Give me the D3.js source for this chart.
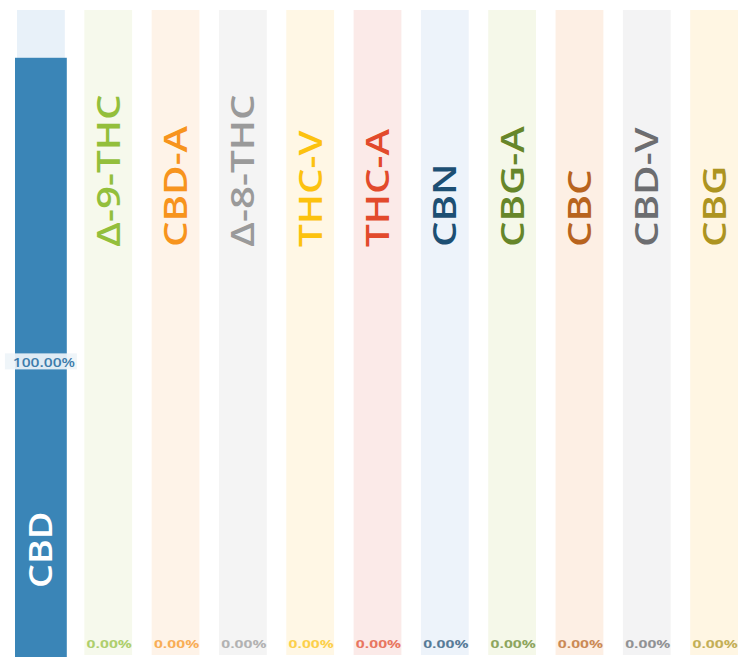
<!DOCTYPE html>
<html>
<head>
<meta charset="utf-8">
<script src="https://cdn.jsdelivr.net/npm/d3@7"></script>
<style>
  html, body { margin: 0; padding: 0; background: #fff; }
  svg { display: block; }
</style>
</head>
<body>
<svg id="chart" width="748" height="657"></svg>
<script>
const categories = ["CBD", "Δ-9-THC", "CBD-A", "Δ-8-THC", "THC-V", "THC-A", "CBN", "CBG-A", "CBC", "CBD-V", "CBG"];
const values = [100, 0, 0, 0, 0, 0, 0, 0, 0, 0, 0];
const valueLabels = ["100.00%", "0.00%", "0.00%", "0.00%", "0.00%", "0.00%", "0.00%", "0.00%", "0.00%", "0.00%", "0.00%"];
const colors = ["#3a85b7", "#93bf3c", "#f7941d", "#9a9a9a", "#fcc20f", "#e24a2c", "#1d4f73", "#66862a", "#b8641e", "#6c6d70", "#ad9421"];
const trackColors = ["#e8f1f9", "#f6f9ec", "#fef3e8", "#f4f4f4", "#fff7e5", "#fbeae8", "#edf3fa", "#f5f8e9", "#fdefe4", "#f3f3f4", "#fff6e3"];
const yMax = 108;

const svg = d3.select("#chart");
const plotTop = 10, plotBottom = 655;

const x = d3.scaleBand().domain(categories).range([17, 738]).paddingInner(0.29).paddingOuter(0);
const y = d3.scaleLinear().domain([0, yMax]).range([plotBottom, plotTop]);

const data = categories.map((c, i) => ({ c, v: values[i], label: valueLabels[i], color: colors[i], track: trackColors[i] }));

const g = svg.append("g");

// background tracks
g.selectAll("rect.track").data(data).join("rect")
  .attr("class", "track")
  .attr("x", d => x(d.c))
  .attr("width", x.bandwidth())
  .attr("y", y(yMax))
  .attr("height", y(0) - y(yMax))
  .attr("fill", d => d.track);

// bars
g.selectAll("rect.bar").data(data.filter(d => d.v > 0)).join("rect")
  .attr("class", "bar")
  .attr("x", d => x(d.c) - 2)
  .attr("width", x.bandwidth() + 4)
  .attr("y", d => y(d.v))
  .attr("height", d => y(0) - y(d.v) + 2)
  .attr("fill", d => d.color);

// category labels
const nameY = 247;
const stretch = 1.26;
g.selectAll("text.name").data(data).join("text")
  .attr("class", "name")
  .attr("transform", d => {
    const cx = x(d.c) + x.bandwidth() / 2;
    const yy = d.v > 0 ? plotBottom - 67 : nameY;
    const s = d.v > 0 ? 1.18 : stretch;
    return `translate(${cx},${yy}) rotate(-90) scale(${s},1)`;
  })
  .attr("dy", "0.36em")
  .attr("text-anchor", "start")
  .attr("font-family", "'Open Sans', sans-serif")
  .attr("font-weight", 600)
  .attr("font-size", 32)
  .attr("fill", d => d.v > 0 ? "#ffffff" : d.color)
  .text(d => d.c);

// value labels
data.forEach(d => {
  const cx = x(d.c) + x.bandwidth() / 2;
  if (d.v > 0) {
    const ly = (y(d.v) + y(0)) / 2 + 7;
    g.append("rect")
      .attr("x", cx - 36).attr("width", 72)
      .attr("y", ly - 10).attr("height", 16)
      .attr("fill", "#eef4f9").attr("opacity", 0.92);
    g.append("text")
      .attr("transform", `translate(${cx + 3},${ly + 4}) scale(1.3,1)`)
      .attr("text-anchor", "middle")
      .attr("font-family", "'Open Sans', sans-serif")
      .attr("font-weight", 600)
      .attr("font-size", 12)
      .attr("fill", "#3d7cab")
      .text(d.label);
  } else {
    g.append("text")
      .attr("transform", `translate(${cx + 1},648) scale(1.42,1)`)
      .attr("text-anchor", "middle")
      .attr("font-family", "'Open Sans', sans-serif")
      .attr("font-weight", 700)
      .attr("font-size", 11)
      .attr("fill", d.color)
      .attr("opacity", 0.72)
      .text(d.label);
  }
});
</script>
</body>
</html>
